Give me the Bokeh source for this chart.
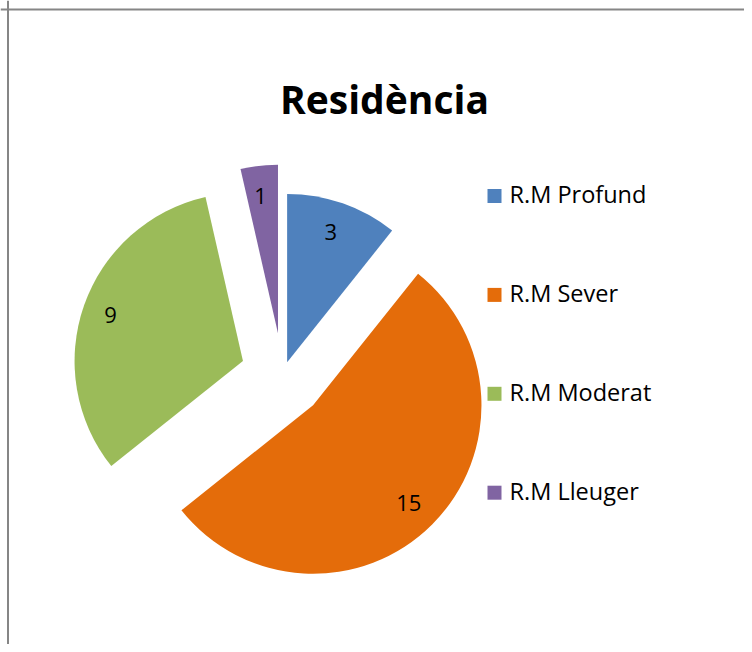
import math
from bokeh.plotting import figure
from bokeh.models import ColumnDataSource, Range1d, Span, Label
from bokeh.core.properties import value
from bokeh.embed import file_html
from bokeh.resources import INLINE

# ---- data ----
title_text = "Residència"
categories = ["R.M Profund", "R.M Sever", "R.M Moderat", "R.M Lleuger"]
counts = [3, 15, 9, 1]
colors = ["#4F81BD", "#E46C0A", "#9BBB59", "#8064A2"]
explode = [0.08, 0.255, 0.25, 0.25]

# ---- layout (pixel coordinates, y downward -> negative data y) ----
W, H = 744, 644
CX, CY, R = 282.2, 374.5, 168.4
LABEL_FRAC = 0.82
FONT = "Open Sans"

p = figure(width=W, height=H, output_backend="svg", toolbar_location=None,
           x_range=Range1d(0, W), y_range=Range1d(-H, 0),
           min_border=0, background_fill_color="white", border_fill_color="white")
p.axis.visible = False
p.grid.visible = False
p.outline_line_color = None

total = sum(counts)
xs, ys, a0s, a1s, lx, ly = [], [], [], [], [], []
cum = 0.0
for v, e in zip(counts, explode):
    t0 = cum / total * 2 * math.pi
    cum += v
    t1 = cum / total * 2 * math.pi
    mid = (t0 + t1) / 2
    ox = CX + e * R * math.sin(mid)
    oy = -CY + e * R * math.cos(mid)
    xs.append(ox)
    ys.append(oy)
    a0s.append(math.pi / 2 - t0)
    a1s.append(math.pi / 2 - t1)
    lx.append(ox + LABEL_FRAC * R * math.sin(mid) - 2)
    ly.append(oy + LABEL_FRAC * R * math.cos(mid))

src = ColumnDataSource(dict(x=xs, y=ys, start=a0s, end=a1s, color=colors,
                            lx=lx, ly=ly, txt=[str(c) for c in counts],
                            cat=categories))
p.wedge(x="x", y="y", radius=R, start_angle="start", end_angle="end",
        direction="clock", fill_color="color", line_color=None, source=src)
p.text(x="lx", y="ly", text="txt", text_align="center", text_baseline="alphabetic",
       text_font=value(FONT), text_font_size="22px", text_color="black", source=src)

# legend
LEG_X, LEG_Y0, LEG_DY, SQ = 494, 195.5, 98.9, 14
leg = ColumnDataSource(dict(
    sx=[LEG_X] * len(categories),
    sy=[-(LEG_Y0 + i * LEG_DY) for i in range(len(categories))],
    tx=[LEG_X + 15] * len(categories),
    ty=[-(LEG_Y0 - 2 + i * LEG_DY) for i in range(len(categories))],
    color=colors, cat=categories))
p.rect(x="sx", y="sy", width=SQ, height=SQ, fill_color="color", line_color=None, source=leg)
p.text(x="tx", y="ty", text="cat", text_align="left", text_baseline="alphabetic",
       text_font=value(FONT), text_font_size="23.5px", text_color="black", source=leg)

# title
p.add_layout(Label(x=384, y=-98, text=title_text, text_align="center",
                   text_baseline="alphabetic", text_font=FONT, text_font_size="39px",
                   text_font_style="bold", text_color="black"))

# chart-area border (left and top visible in the window)
p.add_layout(Span(location=7.5, dimension="height", line_color="#868686", line_width=2))
p.add_layout(Span(location=-9, dimension="width", line_color="#868686", line_width=2))

open("out.html", "w").write(file_html(p, INLINE))
